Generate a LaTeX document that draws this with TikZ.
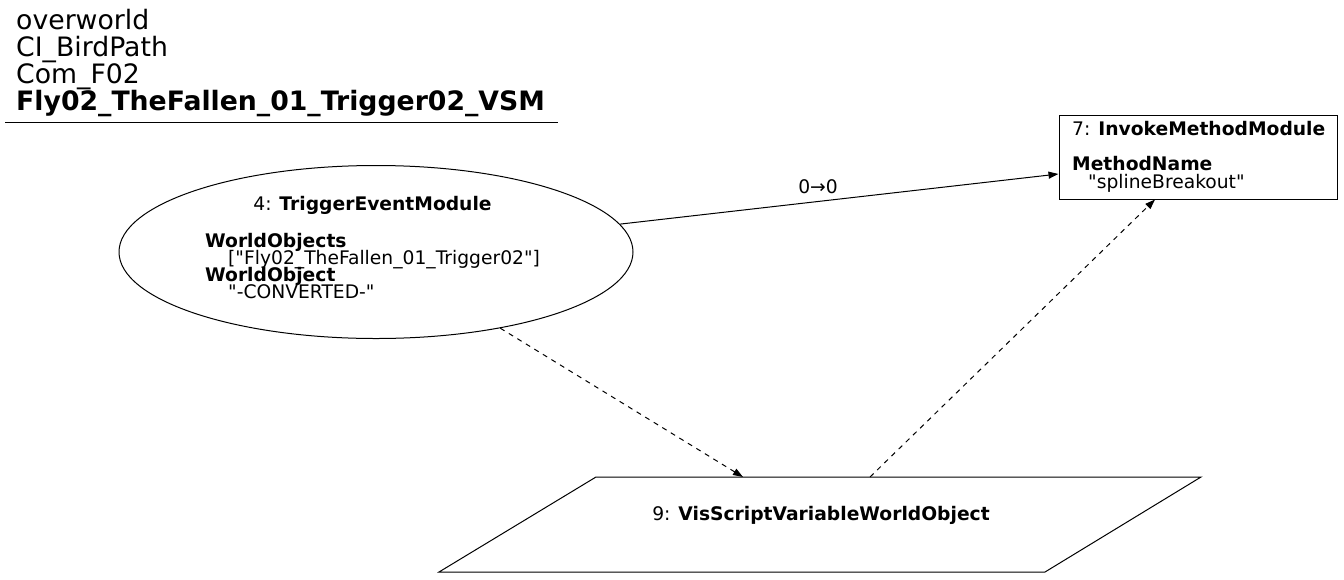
\documentclass[tikz,border=0pt]{standalone}
\usepackage{fontspec}
\setmainfont{DejaVu Sans}[Ligatures=TeXOff]
\usetikzlibrary{arrows.meta,shapes.geometric,calc}
\tikzset{
  nfont/.style={font=\fontsize{18.7}{17.6}\selectfont},
  tfont/.style={font=\fontsize{26.7}{27}\selectfont},
  txt/.style={nfont,inner sep=0pt,anchor=base west},
  ttl/.style={tfont,inner sep=0pt,anchor=base west},
  edge/.style={line width=1pt,-{Triangle[length=10pt,width=7pt]}},
  dedge/.style={edge,dash pattern=on 5pt off 5pt},
  shp/.style={draw,line width=1pt}
}
\begin{document}
\begin{tikzpicture}[x=1pt,y=-1pt]
\useasboundingbox (0,0) rectangle (1344,579);
% title
\node[ttl] (t1) at (16,29) {overworld};
\node[ttl] (t2) at (16,56) {CI\_BirdPath};
\node[ttl] (t3) at (16,83) {Com\_F02};
\node[ttl] (t4) at (16,110) {\bfseries Fly02\_TheFallen\_01\_Trigger02\_VSM};
\draw[line width=1pt] (5,122.5) -- (558,122.5);
% node 4
\node[shp,ellipse,minimum width=514pt,minimum height=173pt,inner sep=0pt] (n4) at (376,252) {};
\node[nfont,inner sep=0pt,anchor=base] (n4a) at (372.5,210) {4: \textbf{TriggerEventModule}};
\node[txt] (n4b) at (205,247) {\textbf{WorldObjects}};
\node[txt] (n4c) at (228,264) {["Fly02\_TheFallen\_01\_Trigger02"]};
\node[txt] (n4d) at (205,281) {\textbf{WorldObject}};
\node[txt] (n4e) at (228,298) {"-CONVERTED-"};
% node 7
\node[shp,rectangle,minimum width=278pt,minimum height=84pt,inner sep=0pt] (n7) at (1198,157) {};
\node[txt] (n7a) at (1072,135) {7: \textbf{InvokeMethodModule}};
\node[txt] (n7b) at (1072,170) {\textbf{MethodName}};
\node[txt] (n7c) at (1088,188) {"splineBreakout"};
% node 9
\coordinate (p1) at (596,477);
\coordinate (p2) at (1201,477);
\coordinate (p3) at (1045,572);
\coordinate (p4) at (439,572);
\draw[shp] (p1) -- (p2) -- (p3) -- (p4) -- cycle;
\node[nfont,inner sep=0pt,anchor=base] (n9) at (821,520) {9: \textbf{VisScriptVariableWorldObject}};
\coordinate (n9in) at (743,477);
\coordinate (n9out) at (870,477);
% edges
\draw[edge] (n4) -- ([yshift=-17pt]n7.west);
\node[nfont,inner sep=0pt,anchor=base] (l1) at (818,193) {0→0};
\draw[dedge] (n4) -- (n9in);
\draw[dedge] (n9out) -- ([xshift=-43pt]n7.south);
\end{tikzpicture}
\end{document}
